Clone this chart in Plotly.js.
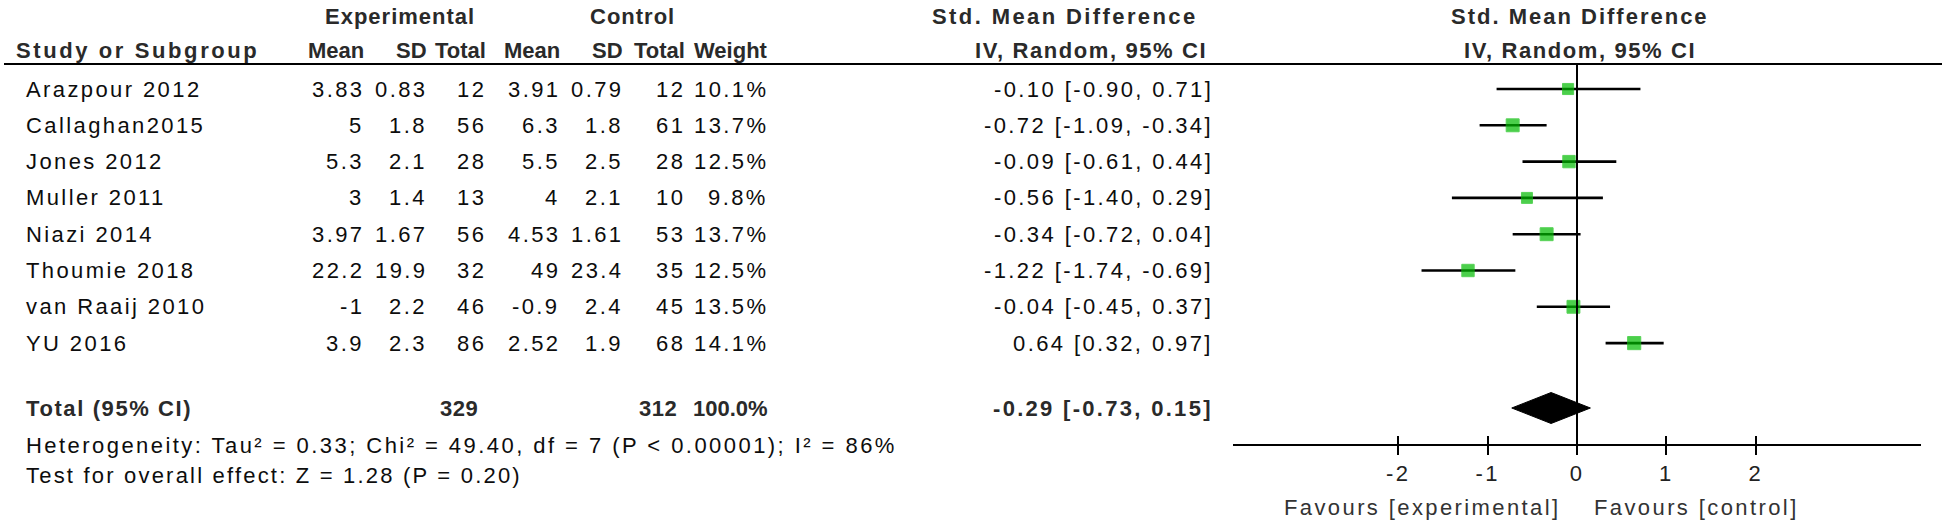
<!DOCTYPE html>
<html>
<head>
<meta charset="utf-8">
<script src="https://cdn.plot.ly/plotly-3.0.1.min.js"></script>
<style>
  html, body { margin: 0; padding: 0; background: #fff; }
  #chart { width: 1946px; height: 522px; }
  svg text { letter-spacing: 2.4px; }
</style>
</head>
<body>
<div id="chart"></div>
<script>
// ---------------- data ----------------
const studies  = ["Arazpour 2012", "Callaghan2015", "Jones 2012", "Muller 2011", "Niazi 2014", "Thoumie 2018", "van Raaij 2010", "YU 2016"];
const expMean  = [3.83, 5, 5.3, 3, 3.97, 22.2, -1, 3.9];
const expSD    = [0.83, 1.8, 2.1, 1.4, 1.67, 19.9, 2.2, 2.3];
const expN     = [12, 56, 28, 13, 56, 32, 46, 86];
const ctlMean  = [3.91, 6.3, 5.5, 4, 4.53, 49, -0.9, 2.52];
const ctlSD    = [0.79, 1.8, 2.5, 2.1, 1.61, 23.4, 2.4, 1.9];
const ctlN     = [12, 61, 28, 10, 53, 35, 45, 68];
const weights  = [10.1, 13.7, 12.5, 9.8, 13.7, 12.5, 13.5, 14.1];
const smd      = [-0.10, -0.72, -0.09, -0.56, -0.34, -1.22, -0.04, 0.64];
const ciLow    = [-0.90, -1.09, -0.61, -1.40, -0.72, -1.74, -0.45, 0.32];
const ciHigh   = [0.71, -0.34, 0.44, 0.29, 0.04, -0.69, 0.37, 0.97];

const totalExpN = 329;
const totalCtlN = 312;
const totalWeight = 100.0;
const totalSmd = -0.29, totalLow = -0.73, totalHigh = 0.15;

const tickValues = [-2, -1, 0, 1, 2];
const tickLabels = ["-2", "-1", "0", "1", "2"];
const heterogeneityText = "Heterogeneity: Tau² = 0.33; Chi² = 49.40, df = 7 (P &lt; 0.00001); I² = 86%";
const overallText = "Test for overall effect: Z = 1.28 (P = 0.20)";
const favoursLeft = "Favours [experimental]";
const favoursRight = "Favours [control]";

// ---------------- layout helpers (pixels) ----------------
const W = 1946, H = 522;
const FONT = "Liberation Sans, Arial, sans-serif";
const TXT = "#0d0d0d";
const HDR = "#2a2a2a";
const FS = 22;
const rowY = i => 89 + 36.3 * i;
const totalY = 408;
const headerLineY = 64;
const axisY = 445;
const col = {
  study: 24, expMean: 366, expSD: 429, expN: 488,
  ctlMean: 562, ctlSD: 625, ctlN: 687, weight: 770, ci: 1215
};

const ann = [];
function txt(text, xpx, ypx, anchor, bold, ls, color) {
  let t = '<span style="letter-spacing:' + ls + 'px">' + text + '</span>';
  if (bold) t = "<b>" + t + "</b>";
  ann.push({
    text: t,
    xref: "paper", yref: "y", x: xpx / W, y: ypx,
    xanchor: anchor, yanchor: "middle", showarrow: false,
    font: { family: FONT, size: FS, color: color || (bold ? HDR : TXT) }
  });
}

// headers
txt("Experimental", 400, 16, "center", true, 1);
txt("Control", 632, 16, "center", true, 1);
txt("Std. Mean Difference", 1200, 16, "right", true, 2.4);
txt("Std. Mean Difference", 1580, 16, "center", true, 2);
txt("Study or Subgroup", col.study - 10, 50, "left", true, 2.6);
txt("Mean", col.expMean, 50, "right", true, 0);
txt("SD", col.expSD, 50, "right", true, 0);
txt("Total", col.expN, 50, "right", true, 0);
txt("Mean", col.ctlMean, 50, "right", true, 0);
txt("SD", col.ctlSD, 50, "right", true, 0);
txt("Total", col.ctlN, 50, "right", true, 0);
txt("Weight", col.weight, 50, "right", true, 0);
txt("IV, Random, 95% CI", col.ci - 6, 50, "right", true, 1.6);
txt("IV, Random, 95% CI", 1580, 50, "center", true, 1.6);

// study rows
const f2 = v => v.toFixed(2);
studies.forEach((s, i) => {
  const y = rowY(i);
  txt(s, col.study, y, "left", false, 2.4);
  txt(String(expMean[i]), col.expMean, y, "right", false, 2.4);
  txt(String(expSD[i]), col.expSD, y, "right", false, 2.4);
  txt(String(expN[i]), col.expN, y, "right", false, 2.4);
  txt(String(ctlMean[i]), col.ctlMean, y, "right", false, 2.4);
  txt(String(ctlSD[i]), col.ctlSD, y, "right", false, 2.4);
  txt(String(ctlN[i]), col.ctlN, y, "right", false, 2.4);
  txt(weights[i].toFixed(1) + "%", col.weight, y, "right", false, 2.4);
  txt(f2(smd[i]) + " [" + f2(ciLow[i]) + ", " + f2(ciHigh[i]) + "]", col.ci, y, "right", false, 2.4);
});

// total row
txt("Total (95% CI)", col.study, totalY, "left", true, 1.6);
txt(String(totalExpN), col.expN - 8, totalY, "right", true, 0.5);
txt(String(totalCtlN), col.ctlN - 8, totalY, "right", true, 0.5);
txt(totalWeight.toFixed(1) + "%", col.weight, totalY, "right", true, 0);
txt(f2(totalSmd) + " [" + f2(totalLow) + ", " + f2(totalHigh) + "]", col.ci, totalY, "right", true, 2.3);

txt(heterogeneityText, col.study, 445, "left", false, 2.45);
txt(overallText, col.study, 475, "left", false, 2.2);
txt(favoursLeft, 1563, 507, "right", false, 2.4, "#333");
txt(favoursRight, 1592, 507, "left", false, 2.4, "#333");

// ---------------- traces ----------------
const studyTrace = {
  type: "scatter", mode: "markers",
  x: smd, y: studies.map((_, i) => rowY(i)),
  marker: { symbol: "square", color: "#00bb00", size: weights.map(w => 3.5 * Math.sqrt(w)),
            line: { color: "#10c010", width: 1 } },
  error_x: { type: "data", symmetric: false,
             array: ciHigh.map((h, i) => h - smd[i]),
             arrayminus: ciLow.map((l, i) => smd[i] - l),
             color: "#000", thickness: 2.6, width: 0 },
  hoverinfo: "skip", showlegend: false, cliponaxis: false
};
const dh = 15.5;
const diamond = {
  type: "scatter", mode: "lines", fill: "toself", fillcolor: "#000",
  x: [totalLow, totalSmd, totalHigh, totalSmd, totalLow],
  y: [totalY, totalY - dh, totalY, totalY + dh, totalY],
  line: { color: "#000", width: 1 }, hoverinfo: "skip", showlegend: false
};
const dummy = { type: "scatter", mode: "markers", x: [0], y: [-100], xaxis: "x2", yaxis: "y",
  marker: { opacity: 0 }, hoverinfo: "skip", showlegend: false };

const xDomain = [1233 / W, 1921 / W];
const axisPos = (H - axisY) / H;

const layout = {
  width: W, height: H,
  margin: { l: 0, r: 0, t: 0, b: 0 },
  paper_bgcolor: "#fff", plot_bgcolor: "rgba(0,0,0,0)",
  showlegend: false,
  xaxis: {
    domain: xDomain, range: [-3.85, 3.85], anchor: "free", position: axisPos,
    showline: true, linecolor: "#000", linewidth: 2,
    ticks: "outside", ticklen: 9, tickwidth: 2, tickcolor: "#000",
    tickvals: tickValues, ticktext: tickLabels,
    tickfont: { family: FONT, size: FS, color: "#222" },
    showgrid: false, zeroline: false, fixedrange: true
  },
  xaxis2: {
    overlaying: "x", domain: xDomain, range: [-3.85, 3.85], anchor: "free", position: axisPos,
    showline: false, ticks: "inside", ticklen: 9, tickwidth: 2, tickcolor: "#000",
    tickvals: tickValues, showticklabels: false, showgrid: false, zeroline: false, fixedrange: true
  },
  yaxis: { domain: [0, 1], range: [H, 0], visible: false, fixedrange: true },
  shapes: [
    { type: "line", xref: "paper", yref: "y", x0: 4 / W, x1: 1942 / W, y0: headerLineY, y1: headerLineY,
      line: { color: "#000", width: 2 } },
    { type: "line", xref: "x", yref: "y", x0: 0, x1: 0, y0: headerLineY, y1: axisY,
      line: { color: "#000", width: 2 } }
  ],
  annotations: ann
};

Plotly.newPlot("chart", [diamond, studyTrace, dummy], layout, { staticPlot: true, displayModeBar: false });
</script>
</body>
</html>
